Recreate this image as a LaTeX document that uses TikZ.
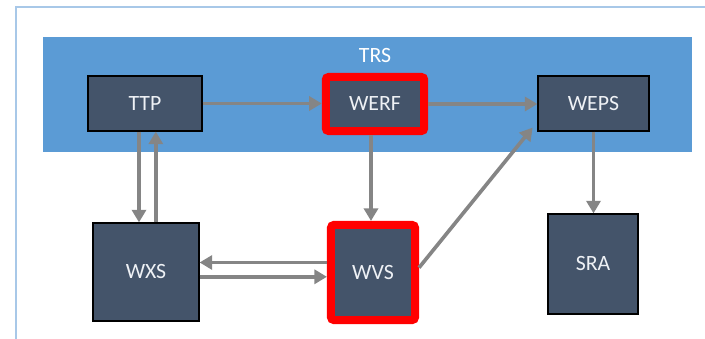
\documentclass[tikz,border=0pt]{standalone}
\usepackage{fontspec}
\setmainfont{Carlito}
\usepackage{tikz}
\usetikzlibrary{arrows.meta}
\definecolor{bandblue}{HTML}{5B9BD5}
\definecolor{framecol}{HTML}{A8C8E8}
\definecolor{boxcol}{HTML}{44546A}
\definecolor{txtcol}{HTML}{EEF1F5}
\definecolor{arcol}{HTML}{858585}
\tikzset{box/.style={draw=black, line width=0.8pt, fill=boxcol, text=txtcol, inner sep=0,
    font=\fontsize{15.5}{18}\selectfont},
  hot/.style={draw=red, line width=0.2cm, rounded corners=2pt},
  ar/.style={draw=arcol, line width=2.6pt, -{Triangle[length=9pt,width=10pt]}}}

\begin{document}
\begin{tikzpicture}[x=0.025cm, y=-0.025cm]
    \useasboundingbox (0,0) rectangle (705,339);
    \draw[framecol, line width=1pt] (16,339) -- (16,7) -- (705,7);
    \fill[bandblue] (43,37) rectangle (692,152);
    \node[text=white, font=\fontsize{15.5}{18}\selectfont](trs) at (375,55.5) {TRS};

    \node[box, minimum width=2.85cm, minimum height=1.375cm](ttp) at (145,103.5) {TTP};
    \node[box, hot, minimum width=2.46cm, minimum height=1.35cm](werf) at (375,104) {WERF};
    \node[box, minimum width=2.775cm, minimum height=1.375cm](weps) at (593.5,103.5) {WEPS};
    \node[box, minimum width=2.65cm, minimum height=2.45cm](wxs) at (146,272) {WXS};
    \node[box, hot, minimum width=2.1cm, minimum height=2.375cm](wvs) at (373,272.5) {WVS};
    \node[box, minimum width=2.25cm, minimum height=2.5cm](sra) at (593,264) {SRA};

    \draw[ar] (ttp.east) -- (ttp.east -| werf.west);
    \draw[ar] (werf.east) -- (werf.east -| weps.west);
    \draw[ar] ([xshift=-0.15cm]ttp.south) -- ([xshift=-0.15cm]ttp.south |- wxs.north);
    \draw[ar] ([xshift=0.27cm]ttp.south |- wxs.north) -- ([xshift=0.27cm]ttp.south);
    \draw[ar] ([xshift=-0.1cm]werf.south) -- ([xshift=-0.1cm]werf.south |- wvs.north);
    \draw[ar] (weps.south) -- (weps.south |- sra.north);
    \draw[ar] ([yshift=0.25cm]wvs.west) -- ([yshift=0.25cm]wvs.west -| wxs.east);
    \draw[ar] ([yshift=-0.12cm]wxs.east) -- ([yshift=-0.12cm]wxs.east -| wvs.west);
    \draw[ar] ([yshift=0.12cm]wvs.east) -- ([xshift=-0.12cm,yshift=0.1cm]weps.south west);
\end{tikzpicture}
\end{document}
